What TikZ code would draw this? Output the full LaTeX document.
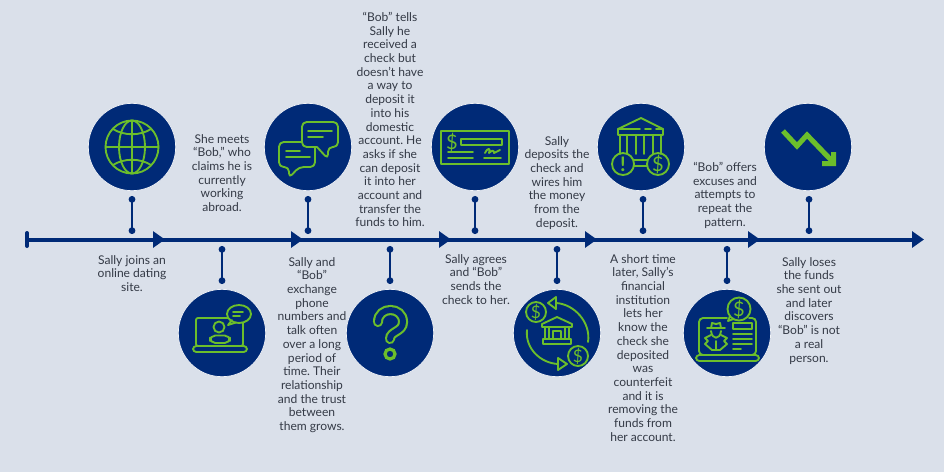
\documentclass[tikz,border=0pt]{standalone}
\usepackage{fontspec}
\setmainfont{Lato}
\usetikzlibrary{arrows.meta}
\definecolor{bgc}{HTML}{DAE0EA}
\definecolor{navy}{HTML}{002A77}
\definecolor{lime}{HTML}{6CBE2B}
\definecolor{txt}{HTML}{343A46}
\frenchspacing
\tikzset{
  x=0.75pt,y=-0.75pt,
  disc/.style={circle,fill=navy,draw=white!65!bgc,line width=0.5pt,minimum size=65.5pt,inner sep=0pt},
  axis/.style={navy,line width=3pt,-{Triangle[length=9pt,width=12pt]}},
  stem/.style={navy,line width=1.3pt,{Circle[length=5pt,width=5pt]}-{Circle[length=5pt,width=5pt]}},
  lbl/.style={text=txt,align=center,inner sep=0pt,anchor=north,font=\fontsize{9.05}{10.27}\selectfont},
  ico/.style={draw=lime,line width=1.4pt,line join=round,line cap=round},
  sym/.style={text=lime,inner sep=0pt,font=\fontsize{#1}{#1}\selectfont},
}
\begin{document}
\begin{tikzpicture}
\fill[bgc] (0,0) rectangle (944,472);
\useasboundingbox (0,0) rectangle (944,472);
% axis
\coordinate (a0) at (27,239.5);
\coordinate (a1) at (165,239.5);
\coordinate (a2) at (303,239.5);
\coordinate (a3) at (451,239.5);
\coordinate (a4) at (597,239.5);
\coordinate (a5) at (760,239.5);
\coordinate (a6) at (924,239.5);
\coordinate (t0) at (27,233);
\coordinate (t1) at (27,246);
\draw[navy,line width=3pt] (a0) -- (a5);
\draw[axis] (a5) -- (a6);
\draw[axis] (a4) -- (a5);
\draw[axis] (a3) -- (a4);
\draw[axis] (a2) -- (a3);
\draw[axis] (a1) -- (a2);
\draw[axis] (a0) -- (a1);
\draw[navy,line width=3pt,line cap=round] (t0) -- (t1);
% discs
\node[disc] (c1) at (132,147) {};
\node[disc] (c2) at (222,333) {};
\node[disc] (c3) at (308,147) {};
\node[disc] (c4) at (390,333) {};
\node[disc] (c5) at (475,147) {};
\node[disc] (c6) at (557,333) {};
\node[disc] (c7) at (641,147) {};
\node[disc] (c8) at (727,333) {};
\node[disc] (c9) at (808,147) {};
% stems
\foreach \n/\x in {1/132,3/308,5/475,7/643,9/809}{
  \coordinate (s\n a) at (\x,196);
  \coordinate (s\n b) at (\x,234);
  \draw[stem] (s\n a) -- (s\n b);
}
\foreach \n/\x in {2/222,4/390,6/557,8/727}{
  \coordinate (s\n a) at (\x,246);
  \coordinate (s\n b) at (\x,284);
  \draw[stem] (s\n a) -- (s\n b);
}
% globe
\begin{scope}[shift={(132,147)},ico]
\draw (0,0) circle [radius=26.5];
\draw (0,0) ellipse [x radius=13,y radius=26.5];
\draw (0,-26.5) -- (0,26.5) (-26.5,0) -- (26.5,0);
\draw (-19,-18) .. controls (-8,-11) and (8,-11) .. (19,-18);
\draw (-19,18) .. controls (-8,11) and (8,11) .. (19,18);
\end{scope}
% chat
\begin{scope}[ico]
\draw[rounded corners=3.5pt] (302,142) -- (279,142) -- (279,167) -- (289,167) -- (289,178) -- (299,167) -- (315,167) -- (315,147);
\draw[rounded corners=3.5pt] (317,147) -- (302,147) -- (302,122) -- (338,122) -- (338,147) -- (328,147) -- (328,159) -- (317,147);
\draw (286,151) -- (300,151) (286,157) -- (310,157);
\draw (308,131) -- (332,131) (308,137) -- (323,137);
\end{scope}
% laptop person
\begin{scope}[ico]
\draw[rounded corners=1.5pt] (228,318) -- (196,318) -- (196,346) -- (243,346) -- (243,323);
\draw[rounded corners=2.5pt] (193,346) -- (247,346) -- (247,352) -- (193,352) -- cycle;
\draw (239,314) ellipse [x radius=12,y radius=9];
\draw (232,320) -- (228,325) -- (236,322.5);
\draw (233,312) -- (243,312) (233,316) -- (240,316);
\draw (219,327) circle [radius=5.5];
\draw[rounded corners=4pt] (210,343) -- (210,335.5) -- (230,335.5) -- (230,343) -- cycle;
\end{scope}
% question mark
\draw[lime,line width=1.6pt,double=navy,double distance=4.4pt,line cap=round] (378,322) .. controls (378,306) and (403,306) .. (403,322) .. controls (403,332) and (390,331) .. (390,339);
\draw[lime,line width=2.4pt] (390,354) circle [radius=5];
% cheque
\begin{scope}[ico]
\draw (441,131) rectangle (509,164);
\draw (461,139) rectangle (502,145);
\draw (448,152) -- (473,152) (448,158) -- (473,158) (484,158) -- (501,158);
\draw (485,153) .. controls (488,147) and (491,148) .. (489,153) .. controls (492,150) and (494,150) .. (494,153) .. controls (496,152) and (498,151) .. (500,150);
\end{scope}
\node[sym=15] (d1) at (452,142) {\$};
% bank with alert
\begin{scope}[ico]
\draw (618,135) -- (663,135) -- (663,129) -- (641,118) -- (618,129) -- cycle;
\draw (618,129) -- (640,129) (645,129) -- (651,129) (656,129) -- (663,129);
\foreach \x in {620,627,636,644,653,661}{\draw (\x,135) -- (\x,154);}
\draw (623,164) circle [radius=11];
\draw (658,164) circle [radius=11];
\draw (634,160) -- (647,160) (634,166) -- (647,166);
\end{scope}
\node[sym=15] (d2) at (623,164) {\bfseries !};
\node[sym=15] (d3) at (658,164) {\$};
% exchange bank
\begin{scope}[ico]
\draw (542,327) -- (572,327) -- (572,324) -- (557,317) -- (542,324) -- cycle;
\draw (543,339) rectangle (571,344);
\foreach \x in {545,549,565,569}{\draw (\x,327) -- (\x,339);}
\draw (553,339) -- (553,331) -- (561,331) -- (561,339);
\draw (536,312) circle [radius=10];
\draw (578,356) circle [radius=10];
\draw (588,342) .. controls (591,322) and (574,304) .. (556,303);
\draw (556,297) -- (548,303) -- (556,309) -- cycle;
\draw (527,330) .. controls (525,348) and (540,363) .. (558,364);
\draw (558,358) -- (567,364) -- (558,370) -- cycle;
\end{scope}
\node[sym=13] (d4) at (536,312) {\$};
\node[sym=13] (d5) at (578,356) {\$};
% spy laptop
\begin{scope}[ico]
\draw[rounded corners=3pt] (727,318) -- (699,318) -- (699,355) -- (756,355) -- (756,318) -- (749,318);
\draw[rounded corners=2.5pt] (696,355) -- (759,355) -- (759,361) -- (696,361) -- cycle;
\draw (739,309) circle [radius=11.5];
\draw (730,316) -- (728,321) -- (733.5,319);
\draw (733,323) rectangle (752,329);
\draw (733,334) -- (752,334) (733,339) -- (752,339) (733,344) -- (752,344) (733,349) -- (741,349);
\draw (707,328) -- (725,328);
\draw (711,328) -- (712,323) -- (716,324) -- (720,323) -- (721,328);
\draw (711,331) .. controls (712,340) and (720,340) .. (721,331);
\draw (711,335) -- (705,338) -- (708,341) -- (705,344) -- (712,350) -- (720,350) -- (727,344) -- (724,341) -- (727,338) -- (721,335);
\draw (716,341) -- (716,350);
\end{scope}
\node[sym=15] (d6) at (739,309) {\$};
% trend
\draw[lime,line width=3.8pt,line join=miter] (783,131) -- (797,146) -- (807,135) -- (832,161);
\fill[lime] (836,152) -- (836,166) -- (822,166) -- (822,161) -- (831,161) -- (831,152) -- cycle;
% labels
\node[lbl] (l1) at (132,255) {Sally joins an\\online dating\\site.};
\node[lbl] (l2) at (222,134) {She meets\\“Bob,” who\\claims he is\\currently\\working\\abroad.};
\node[lbl] (l3) at (312,257) {Sally and\\“Bob”\\exchange\\phone\\numbers and\\talk often\\over a long\\period of\\time. Their\\relationship\\and the trust\\between\\them grows.};
\node[lbl] (l4) at (390,12) {“Bob” tells\\Sally he\\received a\\check but\\doesn’t have\\a way to\\deposit it\\into his\\domestic\\account. He\\asks if she\\can deposit\\it into her\\account and\\transfer the\\funds to him.};
\node[lbl] (l5) at (476,254) {Sally agrees\\and “Bob”\\sends the\\check to her.};
\node[lbl] (l6) at (557,136) {Sally\\deposits the\\check and\\wires him\\the money\\from the\\deposit.};
\node[lbl] (l7) at (643,254) {A short time\\later, Sally’s\\financial\\institution\\lets her\\know the\\check she\\deposited\\was\\counterfeit\\and it is\\removing the\\funds from\\her account.};
\node[lbl] (l8) at (725,162) {“Bob” offers\\excuses and\\attempts to\\repeat the\\pattern.};
\node[lbl] (l9) at (809,257) {Sally loses\\the funds\\she sent out\\and later\\discovers\\“Bob” is not\\a real\\person.};
\end{tikzpicture}
\end{document}
